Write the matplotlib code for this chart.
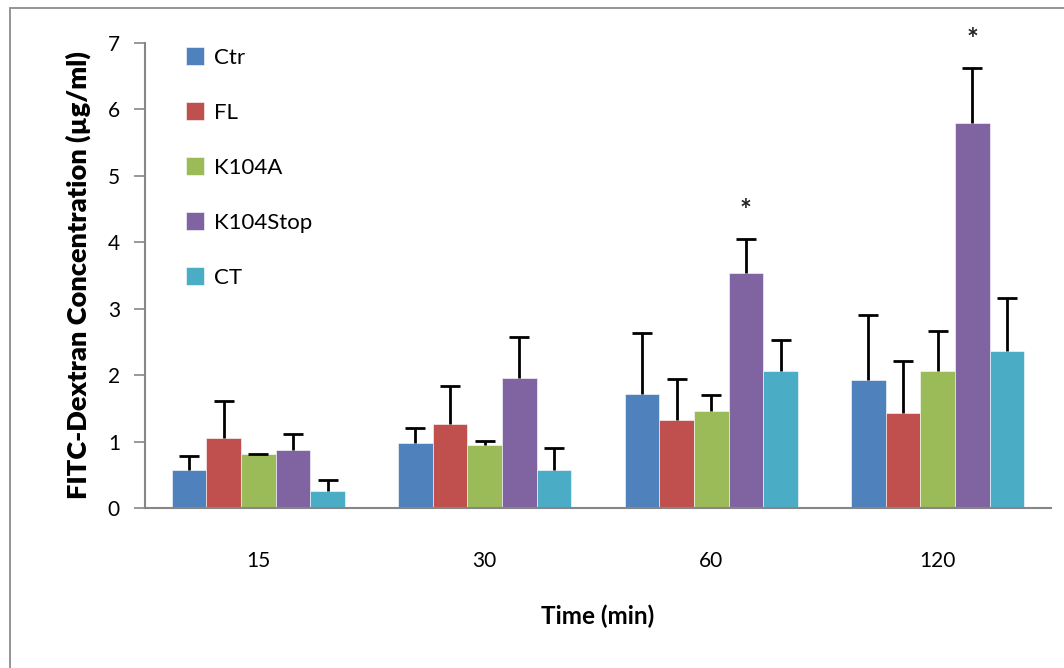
import numpy as np
import matplotlib
matplotlib.use("Agg")
from matplotlib import pyplot as plt
from matplotlib.patches import Rectangle

# data
times = ["15", "30", "60", "120"]
groups = ["Ctr", "FL", "K104A", "K104Stop", "CT"]
colors = ["#4F81BD", "#C0504D", "#9BBB59", "#8064A2", "#4BACC6"]

ctr = [0.57, 0.98, 1.71, 1.92]
fl = [1.05, 1.26, 1.32, 1.43]
k104a = [0.81, 0.95, 1.46, 2.06]
k104stop = [0.88, 1.95, 3.54, 5.80]
ct = [0.26, 0.57, 2.06, 2.37]

ctr_err = [0.21, 0.22, 0.92, 0.99]
fl_err = [0.56, 0.58, 0.62, 0.79]
k104a_err = [0.01, 0.06, 0.24, 0.61]
k104stop_err = [0.23, 0.62, 0.51, 0.82]
ct_err = [0.16, 0.33, 0.47, 0.79]

# significance marks: (time index, group index)
stars = [(2, 3), (3, 3)]

values = [ctr, fl, k104a, k104stop, ct]
errors = [ctr_err, fl_err, k104a_err, k104stop_err, ct_err]

plt.rcParams['font.family'] = ['Lato', 'DejaVu Sans']

fig = plt.figure(figsize=(10.64, 6.68), dpi=100)
ax = fig.add_axes([145/1064, 1 - 508/668, 906/1064, 465/668])

# outer chart border (cut off at right/bottom like the reference)
fig.patches.append(Rectangle((10/1064, -0.5), 2, 1.5 - 8/668,
                             transform=fig.transFigure, fill=False,
                             edgecolor="#8c8c8c", linewidth=1.3))

x = np.arange(len(times))
width = 0.153
for i, (name, vals, errs) in enumerate(zip(groups, values, errors)):
    pos = x + (i - 2) * width
    ax.bar(pos, vals, width=width, color=colors[i], label=name,
           edgecolor="white", linewidth=0.4, zorder=2)
    # only the upper half of the error bar, like the reference
    _, caps, _ = ax.errorbar(pos, vals, yerr=[np.zeros(len(errs)), errs], fmt="none",
                             ecolor="black", elinewidth=2, capsize=7, capthick=2, zorder=3)
    caps[0].set_visible(False)

for ti, gi in stars:
    ax.text(x[ti] + (gi - 2) * width, values[gi][ti] + errors[gi][ti] + 0.42, "*",
            ha="center", va="center", fontsize=20, fontweight="bold", color="#222222")

ax.set_xlim(-0.5, 3.5)
ax.set_ylim(0, 7)
ax.set_yticks(range(0, 8))
ax.set_xticks(x)
ax.set_xticklabels(times)
ax.tick_params(axis="y", direction="out", length=8, width=1.2, color="#868686",
               labelsize=15, pad=10)
ax.tick_params(axis="x", length=0, labelsize=15, pad=31)

for s in ["top", "right"]:
    ax.spines[s].set_visible(False)
for s in ["left", "bottom"]:
    ax.spines[s].set_color("#868686")
    ax.spines[s].set_linewidth(1.5)

ax.set_ylabel("FITC-Dextran Concentration (µg/ml)", fontsize=19.5, fontweight="heavy",
              labelpad=12)
ax.set_xlabel("Time (min)", fontsize=17.5, fontweight="bold", labelpad=24)

ax.legend(loc="upper left", bbox_to_anchor=(0.035, 1.01), frameon=False,
          fontsize=16, handlelength=0.85, handleheight=0.85, handletextpad=0.45,
          labelspacing=1.55, borderaxespad=0)

fig.savefig("out.png", dpi=100)
